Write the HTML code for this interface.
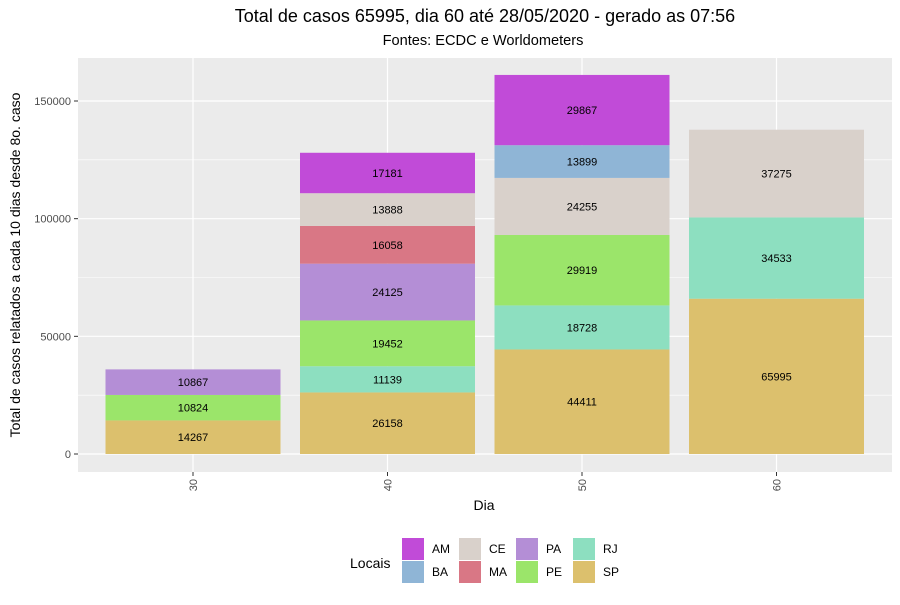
<!DOCTYPE html>
<html><head><meta charset="utf-8"><style>
body{margin:0;background:#fff;font-family:"Liberation Sans",sans-serif}
svg text{font-family:"Liberation Sans",sans-serif}
</style></head><body>
<svg width="900" height="600" xmlns="http://www.w3.org/2000/svg">
<text x="485" y="22" text-anchor="middle" font-size="18">Total de casos 65995, dia 60 até 28/05/2020 - gerado as 07:56</text>
<text x="483" y="45" text-anchor="middle" font-size="14.6">Fontes: ECDC e Worldometers</text>
<rect x="78" y="58" width="814" height="414" fill="#ebebeb"/>
<g id="grid"></g><g id="bars"></g><g id="axes"></g>
<text x="484" y="510" text-anchor="middle" font-size="14">Dia</text>
<text transform="translate(20,265) rotate(-90)" text-anchor="middle" font-size="14">Total de casos relatados a cada 10 dias desde 8o. caso</text>
<g id="legend">
<text x="350" y="568" font-size="14">Locais</text>
</g>
</svg>
<script>
const days=[30,40,50,60];
const locais=['SP','RJ','PE','PA','MA','CE','BA','AM'];
const colors={AM:'#c14bd8',BA:'#8fb5d6',CE:'#d9d1cb',MA:'#d97785',PA:'#b48ed6',PE:'#9be56a',RJ:'#8ddfc0',SP:'#dcc06d'};
const SP=[14267,26158,44411,65995];
const RJ=[0,11139,18728,34533];
const PE=[10824,19452,29919,0];
const PA=[10867,24125,0,0];
const MA=[0,16058,0,0];
const CE=[0,13888,24255,37275];
const BA=[0,0,13899,0];
const AM=[0,17181,29867,0];
const yTicks=[0,50000,100000,150000];
const series={SP,RJ,PE,PA,MA,CE,BA,AM};
const NS='http://www.w3.org/2000/svg';
const y=v=>454-v*(353/150000);
const x=d=>193+(d-30)*19.45;
const bw=175;
function mk(t,a,p){const e=document.createElementNS(NS,t);for(const k in a)e.setAttribute(k,a[k]);p.appendChild(e);return e;}
const grid=document.getElementById('grid'),bars=document.getElementById('bars'),axes=document.getElementById('axes');
for(let i=0;i<yTicks.length-1;i++){const m=(yTicks[i]+yTicks[i+1])/2;const l=mk('line',{x1:78,x2:892,y1:y(m),y2:y(m),stroke:'#fff','stroke-width':0.6},grid);}
yTicks.forEach(t=>{const l=mk('line',{x1:78,x2:892,y1:y(t),y2:y(t),stroke:'#fff','stroke-width':1.2},grid);
const tk=mk('line',{x1:74,x2:78,y1:y(t),y2:y(t),stroke:'#333'},axes);
const tx=mk('text',{x:71,y:y(t)+4,'text-anchor':'end','font-size':11,fill:'#4d4d4d'},axes);tx.textContent=t;});
days.forEach((d,i)=>{const l=mk('line',{x1:x(d),x2:x(d),y1:58,y2:472,stroke:'#fff','stroke-width':1.2},grid);
const tk=mk('line',{x1:x(d),x2:x(d),y1:472,y2:476,stroke:'#333'},axes);
const tx=mk('text',{transform:`translate(${x(d)+4},479) rotate(-90)`,'text-anchor':'end','font-size':11,fill:'#4d4d4d'},axes);tx.textContent=d;
let cum=0;locais.forEach(k=>{const v=series[k][i];if(!v)return;const r=mk('rect',{x:x(d)-bw/2,y:y(cum+v),width:bw,height:y(cum)-y(cum+v),fill:colors[k]},bars);
const t=mk('text',{x:x(d),y:y(cum+v/2)+4,'text-anchor':'middle','font-size':11},bars);t.textContent=v;cum+=v;});});
const lg=document.getElementById('legend');const order=['AM','BA','CE','MA','PA','PE','RJ','SP'];
order.forEach((k,j)=>{const c=Math.floor(j/2),r=j%2;const kx=402+c*57,ky=538+r*23;
const re=mk('rect',{x:kx,y:ky,width:22,height:22,fill:colors[k]},lg);
const t=mk('text',{x:kx+30,y:ky+15,'font-size':12},lg);t.textContent=k;});
</script>
</body></html>
